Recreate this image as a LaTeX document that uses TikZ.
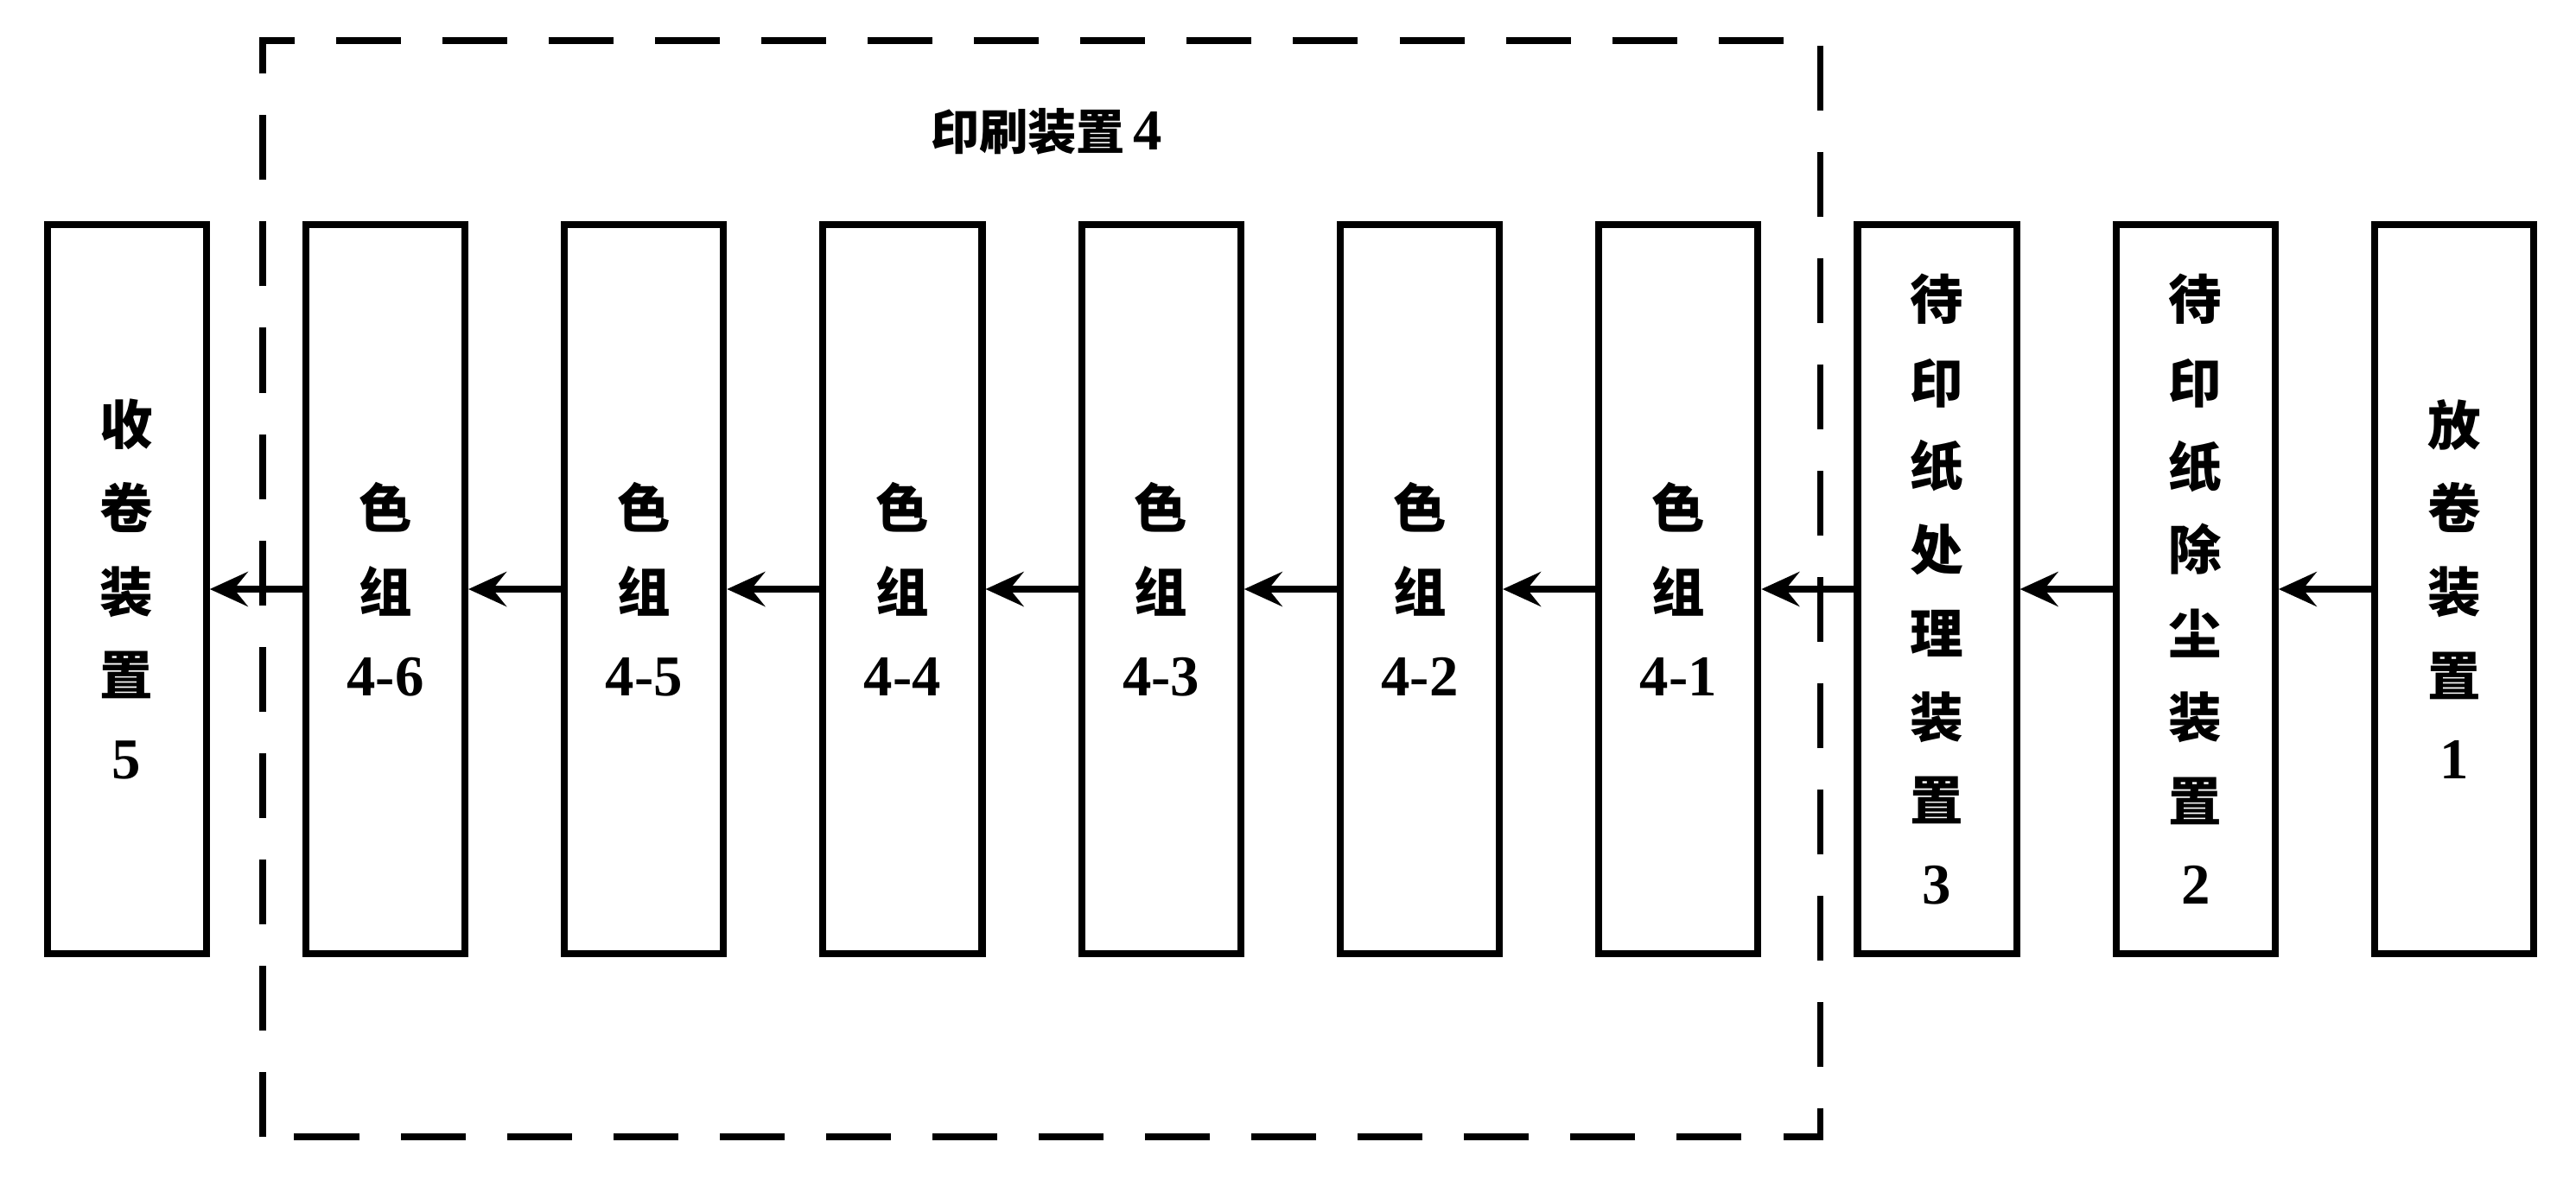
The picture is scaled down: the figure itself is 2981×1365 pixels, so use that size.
\documentclass[tikz,border=0pt]{standalone}
\usepackage{fontspec}
\setmainfont{Liberation Serif}
\newfontfamily\cjk{Noto Sans CJK SC}
\usetikzlibrary{arrows.meta,positioning}
\newcommand{\unitno}[1]{{\rmfamily\bfseries\fontsize{19}{27.5}\selectfont #1}}
\tikzset{
  unitbox/.style={draw,line width=2.3pt,minimum width=1.84cm,minimum height=8.44cm,inner sep=0pt,align=center,font=\cjk\bfseries\fontsize{17.5}{27.5}\selectfont},
  flowarrow/.style={-{Stealth[length=4.4mm,width=4mm,inset=1.6mm]},line width=2pt},
  groupframe/.style={line width=2pt,dash pattern=on 0.75cm off 0.48cm},
  grouplabel/.style={font=\cjk\bfseries\fontsize{16}{20}\selectfont}
}

\begin{document}
\begin{tikzpicture}[x=0.01cm,y=0.01cm,node distance=1.07cm]
  \useasboundingbox (0,0) rectangle (2981,1365);
  % printing device frame
  \coordinate (frameSW) at (304,49);
  \coordinate (frameNE) at (2106,1318);
  \draw[groupframe] (frameSW) rectangle (frameNE);
  \node[grouplabel] (framelabel) at (1211,1213) {印刷装置\,\unitno{4}};
  % units, right to left
  \node[unitbox] (unwind) at (2840,683) {放\\卷\\装\\置\\\unitno{1}};
  \node[unitbox,left=of unwind] (dedust) {待\\印\\纸\\除\\尘\\装\\置\\\unitno{2}};
  \node[unitbox,left=of dedust] (pretreat) {待\\印\\纸\\处\\理\\装\\置\\\unitno{3}};
  \node[unitbox,left=of pretreat] (color1) {色\\组\\\unitno{4-1}};
  \foreach \i [evaluate=\i as \j using int(\i-1)] in {2,...,6}
    \node[unitbox,left=of color\j] (color\i) {色\\组\\\unitno{4-\i}};
  \node[unitbox,left=of color6] (rewind) {收\\卷\\装\\置\\\unitno{5}};
  % web path
  \draw[flowarrow] (unwind) -- (dedust);
  \draw[flowarrow] (dedust) -- (pretreat);
  \draw[flowarrow] (pretreat) -- (color1);
  \foreach \i [evaluate=\i as \j using int(\i-1)] in {2,...,6}
    \draw[flowarrow] (color\j) -- (color\i);
  \draw[flowarrow] (color6) -- (rewind);
\end{tikzpicture}
\end{document}
